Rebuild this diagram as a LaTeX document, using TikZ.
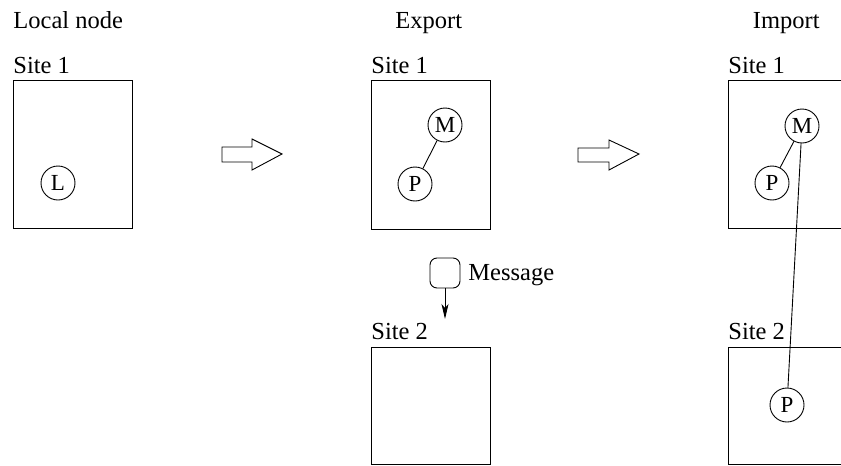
\documentclass[tikz,border=0pt]{standalone}
\usepackage{fontspec}
\setmainfont{Liberation Serif}
\usetikzlibrary{arrows.meta}
\begin{document}
\begin{tikzpicture}[x=1pt,y=-1pt,line width=0.9pt,
  lbl/.style={anchor=base west,inner sep=0pt,font=\fontsize{24.5}{26}\selectfont},
  obj/.style={draw,circle,minimum size=34pt,inner sep=0pt,font=\fontsize{23}{25}\selectfont},
  sitebox/.style={draw},
  bigarrow/.style={draw,line join=miter}]
\useasboundingbox (0,0) rectangle (841,466);
\clip (0,0) rectangle (841,466);

% column headings
\node[lbl] (h1) at (13,28.3) {Local node};
\node[lbl] (h2) at (395,28.3) {Export};
\node[lbl] (h3) at (752.5,28.3) {Import};

% local node
\node[lbl] (s1a) at (13,73.5) {Site 1};
\draw[sitebox] (13,80) rectangle (132,228);
\node[obj] (L) at (58,183) {L};

% first transition arrow
\draw[bigarrow] (222,147) -- (252,147) -- (252,139) -- (282,154) -- (252,170) -- (252,162) -- (222,162) -- cycle;

% export
\node[lbl] (s1b) at (371,73.5) {Site 1};
\draw[sitebox] (371,80) rectangle (490,229);
\node[obj] (Mb) at (445,125) {M};
\node[obj] (Pb) at (415,184) {P};
\draw (Mb) -- (Pb);

\node[draw,rounded corners=7pt,minimum size=30pt,inner sep=0pt] (msg) at (445,273) {};
\node[lbl] (msgtxt) at (468,280.5) {Message};
\coordinate (msgend) at (445,319);
\draw[-{Stealth[length=15pt,width=7pt,inset=4pt]}] (msg) -- (msgend);

\node[lbl] (s2b) at (371,339.5) {Site 2};
\draw[sitebox] (371,347) rectangle (490,464.5);

% second transition arrow
\draw[bigarrow] (578,148) -- (609,148) -- (609,140) -- (639,154) -- (609,170) -- (609,162) -- (578,162) -- cycle;

% import
\node[lbl] (s1c) at (728,73.5) {Site 1};
\draw[sitebox] (728,80) rectangle (870,228);
\node[obj] (Mc) at (802,126) {M};
\node[obj] (Pc) at (772,183) {P};
\draw (Mc) -- (Pc);

\node[lbl] (s2c) at (728,339.5) {Site 2};
\draw[sitebox] (728,347) rectangle (870,464.5);
\node[obj] (Pd) at (787,405) {P};
\draw (Mc) -- (Pd);
\end{tikzpicture}
\end{document}
